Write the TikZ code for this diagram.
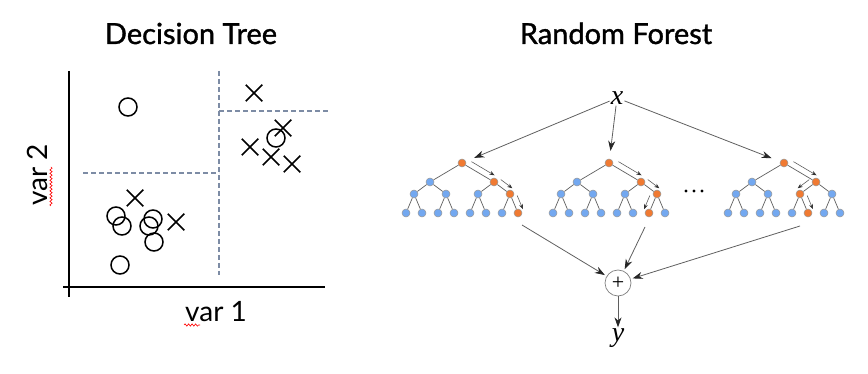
\documentclass[tikz,border=0pt]{standalone}
\usepackage{fontspec}
\setmainfont{Lato}
\newfontfamily\headfont{Lato}[FakeBold=1.2]
\newfontfamily\symserif{Liberation Serif}
\usetikzlibrary{arrows.meta, calc, shapes.misc, decorations.pathmorphing}

\definecolor{splitgray}{RGB}{125,140,165}
\definecolor{leafblue}{RGB}{115,168,240}
\definecolor{pathorange}{RGB}{240,122,50}
\definecolor{wiregray}{RGB}{95,95,95}

\tikzset{
  title/.style={font=\headfont\fontsize{29}{34}\selectfont},
  axislabel/.style={font=\fontsize{28}{32}\selectfont},
  axisline/.style={line width=2pt, black},
  splitline/.style={line width=1.3pt, color=splitgray, dash pattern=on 5pt off 3pt},
  obsO/.style={circle, draw, line width=1.5pt, minimum size=18pt, inner sep=0pt},
  obsX/.style={cross out, draw, line width=1.5pt, minimum size=15pt, inner sep=0pt},
  spellmark/.style={red, line width=0.6pt, decorate,
    decoration={snake, amplitude=1.2pt, segment length=3.5pt}},
  treenode/.style={circle, draw=gray!80, fill=leafblue, minimum size=8pt,
    inner sep=0pt, line width=0.5pt},
  hotnode/.style={treenode, fill=pathorange},
  treeedge/.style={wiregray, line width=0.7pt},
  feedarrow/.style={-{Stealth[length=10pt, width=7pt, black!85]}, line width=0.8pt, color=wiregray},
  steparrow/.style={-{Stealth[length=5pt, width=4pt, black!80]}, line width=0.6pt, color=wiregray},
  varsym/.style={font=\symserif\itshape\fontsize{28}{30}\selectfont, inner sep=1pt},
}

% one binary tree of depth 3: name, left x, hot child index at levels b, c, d
\newcommand\foresttree[5]{%
  \node[hotnode] (#1-a) at (#2+56,163) {};
  \foreach \k in {0,1}{%
    \ifnum\k=#3 \def\nodekind{hotnode}\else\def\nodekind{treenode}\fi
    \node[\nodekind] (#1-b\k) at (#2+24+64*\k,182) {};}
  \foreach \j in {0,...,3}{%
    \ifnum\j=#4 \def\nodekind{hotnode}\else\def\nodekind{treenode}\fi
    \node[\nodekind] (#1-c\j) at (#2+8+32*\j,194) {};}
  \foreach \i in {0,...,7}{%
    \ifnum\i=#5 \def\nodekind{hotnode}\else\def\nodekind{treenode}\fi
    \node[\nodekind] (#1-d\i) at (#2+16*\i,213) {};}
  \foreach \k in {0,1} \draw[treeedge] (#1-a) -- (#1-b\k);
  \foreach \j in {0,...,3}{\pgfmathtruncatemacro\up{\j/2}\draw[treeedge] (#1-b\up) -- (#1-c\j);}
  \foreach \i in {0,...,7}{\pgfmathtruncatemacro\up{\i/2}\draw[treeedge] (#1-c\up) -- (#1-d\i);}
}
% small arrow running beside a tree edge
\newcommand\flowstep[3]{%
  \draw[steparrow] ($(#1)!0.2!(#2)!6pt!#3:(#2)$) -- ($(#1)!0.92!(#2)!6pt!#3:(#2)$);}

\begin{document}
\begin{tikzpicture}[x=1pt, y=-1pt]
\useasboundingbox (0,0) rectangle (868,374);

% ---- decision tree ----
\node[title, anchor=base] (dttitle) at (191,44) {Decision Tree};
\draw[axisline] (69,71) -- (69,297);
\draw[axisline] (63,287) -- (325,287);
\draw[splitline] (219,71) -- (219,275);
\draw[splitline] (83,173) -- (219,173);
\draw[splitline] (219,111) -- (330,111);

\foreach \px/\py in {128/107, 116/216, 122/226, 153/219, 149/226, 154/242, 120/265, 276/138}
  \node[obsO] at (\px,\py) {};
\foreach \px/\py in {254/93, 283/128, 250/147, 271/157, 292/164, 135/198, 176/222}
  \node[obsX] at (\px,\py) {};

\node[axislabel, anchor=base] (xlabel) at (216,321) {var 1};
\node[axislabel, anchor=base, rotate=90] (ylabel) at (47,175) {var 2};
\draw[spellmark] (184,325) -- (200,325);
\draw[spellmark] (51,206) -- (51,167);

% ---- random forest ----
\node[title, anchor=base] (rftitle) at (616,44) {Random Forest};
\node[varsym] (x) at (617,98) {x};

\foresttree{t1}{406}{1}{3}{7}
\foresttree{t2}{553}{1}{3}{6}
\foresttree{t3}{728}{1}{2}{5}

\flowstep{t1-a}{t1-b1}{90} \flowstep{t1-b1}{t1-c3}{90} \flowstep{t1-c3}{t1-d7}{90}
\flowstep{t2-a}{t2-b1}{90} \flowstep{t2-b1}{t2-c3}{90} \flowstep{t2-c3}{t2-d6}{-90}
\flowstep{t3-a}{t3-b1}{90} \flowstep{t3-b1}{t3-c2}{-90} \flowstep{t3-c2}{t3-d5}{90}

\foreach \dx in {686,694,702} \fill (\dx,191) circle (1.6);

\draw[feedarrow, shorten >=9pt] (x) -- (t1-a);
\draw[feedarrow, shorten >=8pt] (x) -- (t2-a);
\draw[feedarrow, shorten >=9pt] (x) -- (t3-a);

\node[circle, draw=gray, line width=0.7pt, minimum size=26pt, inner sep=0pt,
      font=\symserif\fontsize{22}{22}\selectfont] (sum) at (618,283) {+};
\coordinate (t1-out) at (522,225);
\coordinate (t2-out) at (645,227);
\coordinate (t3-out) at (800,226);
\draw[feedarrow, shorten >=2pt] (t1-out) -- (sum);
\draw[feedarrow, shorten >=2pt] (t2-out) -- (sum);
\draw[feedarrow, shorten >=2pt] (t3-out) -- (sum);

\node[varsym] (y) at (618,338) {y};
\draw[feedarrow] (sum) -- (y);
\end{tikzpicture}
\end{document}
